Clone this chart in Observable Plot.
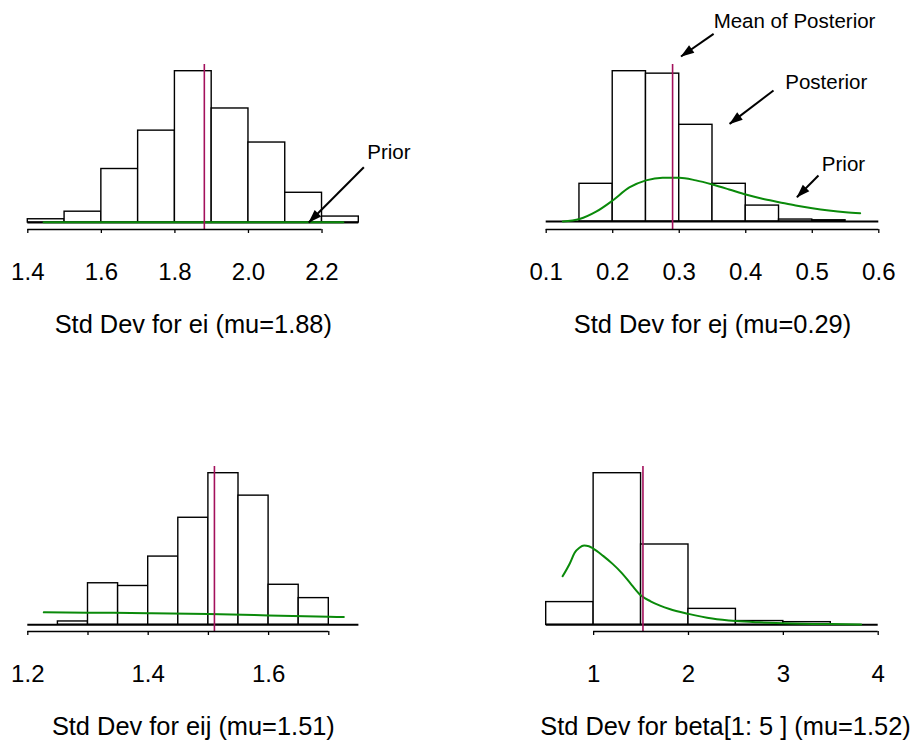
<!DOCTYPE html>
<html><head><meta charset="utf-8">
<script src="https://cdn.jsdelivr.net/npm/d3@7"></script>
<script src="https://cdn.jsdelivr.net/npm/@observablehq/plot@0.6"></script>
<style>
body{margin:0;background:#fff;}
#wrap{position:relative;width:917px;height:744px;overflow:hidden;background:#fff;font-family:"Liberation Sans",Arial,sans-serif;}
.panel{position:absolute;}
</style></head><body><div id="wrap"></div>
<script>
// ---------- Panel 1: Std Dev for ei ----------
const eiBinStart = [1.4, 1.5, 1.6, 1.7, 1.8, 1.9, 2.0, 2.1, 2.2];
const eiDensity  = [0.06, 0.20, 0.99, 1.70, 2.80, 2.11, 1.48, 0.55, 0.11];
const eiPriorX   = [1.443, 1.65, 1.85, 2.05, 2.258];
const eiPriorY   = [0.006, 0.006, 0.005, 0.005, 0.005];
const eiMean     = 1.88;
const eiTicks    = [1.4, 1.6, 1.8, 2.0, 2.2];

// ---------- Panel 2: Std Dev for ej ----------
const ejBinStart = [0.1, 0.15, 0.2, 0.25, 0.3, 0.35, 0.4, 0.45, 0.5, 0.55];
const ejDensity  = [0, 1.54, 6.14, 6.04, 3.95, 1.54, 0.65, 0.08, 0.05, 0];
const ejPriorX   = [0.125, 0.15, 0.175, 0.2, 0.225, 0.25, 0.275, 0.3, 0.325, 0.35, 0.375, 0.4, 0.425, 0.45, 0.475, 0.5, 0.525, 0.55, 0.572];
const ejPriorY   = [0, 0.10, 0.40, 0.86, 1.39, 1.68, 1.79, 1.79, 1.68, 1.51, 1.31, 1.10, 0.93, 0.79, 0.65, 0.54, 0.45, 0.38, 0.34];
const ejMean     = 0.29;
const ejTicks    = [0.1, 0.2, 0.3, 0.4, 0.5, 0.6];

// ---------- Panel 3: Std Dev for eij ----------
const eijBinStart = [1.2, 1.25, 1.3, 1.35, 1.4, 1.45, 1.5, 1.55, 1.6, 1.65, 1.7];
const eijDensity  = [0, 0.11, 1.37, 1.28, 2.25, 3.53, 5.00, 4.26, 1.32, 0.88, 0];
const eijPriorX   = [1.2266, 1.3, 1.4, 1.5, 1.6, 1.7, 1.725];
const eijPriorY   = [0.41, 0.40, 0.385, 0.355, 0.31, 0.265, 0.255];
const eijMean     = 1.51;
const eijTicks    = [1.2, 1.3, 1.4, 1.5, 1.6, 1.7];
const eijLabels   = [1.2, 1.4, 1.6];

// ---------- Panel 4: Std Dev for beta[1:5] ----------
const betaBinStart = [0.5, 1.0, 1.5, 2.0, 2.5, 3.0, 3.5];
const betaDensity  = [0.164, 1.095, 0.580, 0.115, 0.027, 0.019, 0];
const betaPriorX   = [0.673, 0.75, 0.8, 0.85, 0.9, 0.95, 1.0, 1.1, 1.2, 1.3, 1.4, 1.5, 1.6, 1.7, 1.8, 2.0, 2.25, 2.5, 2.75, 3.0, 3.5, 3.82];
const betaPriorY   = [0.351, 0.445, 0.52, 0.556, 0.572, 0.567, 0.549, 0.498, 0.44, 0.372, 0.289, 0.211, 0.17, 0.139, 0.114, 0.079, 0.045, 0.027, 0.018, 0.012, 0.005, 0.002];
const betaMean     = 1.52;
const betaTicks    = [1, 2, 3, 4];

// ---------- Annotations ----------
const eiNotes  = [{x: 2.323, y: 1.166, t: "Prior"}];
const eiArrows = [{x1: 2.3137, y1: 1.023, x2: 2.164, y2: 0}];
const ejNotes  = [
  {x: 0.3517, y: 7.913, t: "Mean of Posterior"},
  {x: 0.4593, y: 5.42,  t: "Posterior"},
  {x: 0.5144, y: 2.083, t: "Prior"}
];
const ejArrows = [
  {x1: 0.3517, y1: 7.667, x2: 0.3027, y2: 6.74},
  {x1: 0.4417, y1: 5.35,  x2: 0.3757, y2: 3.99},
  {x1: 0.5093, y1: 1.879, x2: 0.4769, y2: 0.993}
];

const FONT = '"Liberation Sans", Arial, Helvetica, sans-serif';
const MEAN_COLOR = "#a3105c";
const PRIOR_COLOR = "#0a8a0a";

function filledArrow(color) {
  const ns = "http://www.w3.org/2000/svg";
  const m = document.createElementNS(ns, "marker");
  m.setAttribute("viewBox", "-13 -5 13 10");
  m.setAttribute("markerWidth", "13");
  m.setAttribute("markerHeight", "10");
  m.setAttribute("markerUnits", "userSpaceOnUse");
  m.setAttribute("orient", "auto");
  m.setAttribute("refX", "0");
  m.setAttribute("refY", "0");
  m.setAttribute("overflow", "visible");
  const p = document.createElementNS(ns, "path");
  p.setAttribute("d", "M0.5,0L-13,-4.6L-13,4.6Z");
  p.setAttribute("fill", color || "black");
  p.setAttribute("stroke", "none");
  m.appendChild(p);
  return m;
}

function makePanel(cfg, marker) {
  const bars = cfg.bins.map((b, i) => ({x0: b, x1: +(b + cfg.bw).toFixed(4), h: cfg.dens[i]}));
  const prior = cfg.priorX.map((x, i) => ({x, y: cfg.priorY[i]}));
  const marks = [
    Plot.rectY(bars, {x1: "x0", x2: "x1", y: "h", fill: "white", stroke: "black", strokeWidth: 1.4}),
    Plot.ruleY([0], {x1: cfg.domain[0], x2: cfg.domain[1], stroke: "black", strokeWidth: 2}),
    Plot.line(prior, {x: "x", y: "y", stroke: PRIOR_COLOR, strokeWidth: 2, curve: "monotone-x"}),
    Plot.ruleX([cfg.mean], {stroke: MEAN_COLOR, strokeWidth: 1.6}),
    Plot.ruleY([0], {x1: cfg.ticks[0], x2: cfg.ticks[cfg.ticks.length - 1], dy: cfg.insetBottom, stroke: "black", strokeWidth: 1.3}),
    Plot.axisX({ticks: cfg.ticks, tickSize: 4, tickPadding: 29.5, stroke: "black", strokeWidth: 1.3,
      fontSize: 24, fill: "black", tickFormat: cfg.fmt}),
    Plot.text([cfg.title], {x: cfg.titleX, text: d => d, frameAnchor: "bottom", lineAnchor: "bottom",
      dy: 103, fontSize: 25.4, textAnchor: "middle", fill: "black"})
  ];
  if (cfg.notes) marks.push(Plot.text(cfg.notes, {x: "x", y: "y", text: "t", textAnchor: "start",
      lineAnchor: "bottom", fontSize: 20.5, fill: "black"}));
  if (cfg.arrows) marks.push(Plot.link(cfg.arrows, {x1: "x1", y1: "y1", x2: "x2", y2: "y2",
      stroke: "black", strokeWidth: 2, markerEnd: marker}));
  return Plot.plot({
    width: 459, height: 342,
    marginLeft: cfg.marginLeft, marginRight: cfg.marginRight, marginTop: 64, marginBottom: 113,
    x: {domain: cfg.domain, axis: null},
    y: {domain: [0, d3.max(cfg.dens)], axis: null, insetTop: 6.7, insetBottom: cfg.insetBottom},
    style: {fontFamily: FONT, fontSize: "24px", color: "black", background: "transparent", overflow: "visible"},
    marks
  });
}

const fmt1 = d3.format(".1f");
const panels = [
  {left: 0, top: 0, bins: eiBinStart, bw: 0.1, dens: eiDensity, priorX: eiPriorX, priorY: eiPriorY,
   mean: eiMean, ticks: eiTicks, fmt: fmt1, domain: [1.4, 2.3], marginLeft: 27.3, marginRight: 100.7,
   insetBottom: 7, title: "Std Dev for ei (mu=1.88)", titleX: 1.85, notes: eiNotes, arrows: eiArrows},
  {left: 458, top: 0, bins: ejBinStart, bw: 0.05, dens: ejDensity, priorX: ejPriorX, priorY: ejPriorY,
   mean: ejMean, ticks: ejTicks, fmt: fmt1, domain: [0.1, 0.6], marginLeft: 87.7, marginRight: 38.7,
   insetBottom: 8, title: "Std Dev for ej (mu=0.29)", titleX: 0.35, notes: ejNotes, arrows: ejArrows},
  {left: 0, top: 402, bins: eijBinStart, bw: 0.05, dens: eijDensity, priorX: eijPriorX, priorY: eijPriorY,
   mean: eijMean, ticks: eijTicks, fmt: d => eijLabels.some(v => Math.abs(v - d) < 1e-9) ? fmt1(d) : "",
   domain: [1.2, 1.75], marginLeft: 27.3, marginRight: 100.6,
   insetBottom: 6.7, title: "Std Dev for eij (mu=1.51)", titleX: 1.475},
  {left: 458, top: 402, bins: betaBinStart, bw: 0.5, dens: betaDensity, priorX: betaPriorX, priorY: betaPriorY,
   mean: betaMean, ticks: betaTicks, fmt: d3.format("d"), domain: [0.5, 4.0], marginLeft: 87.7, marginRight: 39.3,
   insetBottom: 6.7, title: "Std Dev for beta[1: 5 ] (mu=1.52)", titleX: 2.39}
];

const wrap = document.getElementById("wrap");
for (const cfg of panels) {
  let el;
  try { el = makePanel(cfg, filledArrow); } catch (e) { el = makePanel(cfg, "arrow"); }
  const div = document.createElement("div");
  div.className = "panel";
  div.style.left = cfg.left + "px";
  div.style.top = cfg.top + "px";
  div.appendChild(el);
  wrap.appendChild(div);
}
</script>
</body></html>
